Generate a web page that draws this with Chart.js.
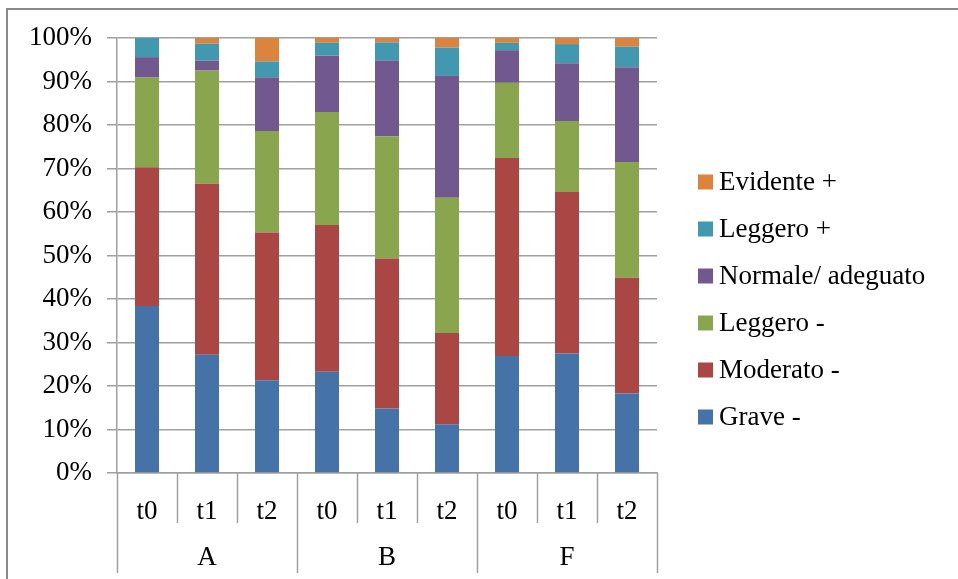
<!DOCTYPE html>
<html>
<head>
<meta charset="utf-8">
<title>Grafico</title>
<script src="https://cdn.jsdelivr.net/npm/chart.js@4.4.1/dist/chart.umd.min.js"></script>
<style>
  html, body { margin: 0; padding: 0; background: #fff; }
  canvas { display: block; }
</style>
</head>
<body>
<canvas id="grafico" width="958" height="579"></canvas>
<script>
// categorie (tempi) e gruppi
const tempi = ['t0', 't1', 't2', 't0', 't1', 't2', 't0', 't1', 't2'];
const gruppi = ['A', 'B', 'F'];

// percentuali per livello
const grave = [38.4, 27.2, 21.3, 23.3, 14.8, 11.2, 26.9, 27.5, 18.3];
const moderato = [31.9, 39.3, 34.0, 33.7, 34.5, 21.0, 45.5, 37.1, 26.6];
const leggeroMeno = [20.6, 26.0, 23.3, 26.0, 28.1, 31.1, 17.3, 16.3, 26.6];
const normale = [4.7, 2.3, 12.4, 13.0, 17.4, 28.0, 7.5, 13.3, 21.8];
const leggeroPiu = [4.4, 3.9, 3.6, 2.9, 4.2, 6.5, 1.7, 4.4, 4.7];
const evidente = [0, 1.3, 5.4, 1.1, 1.0, 2.2, 1.1, 1.4, 2.0];

const fontSerif = "'Liberation Serif', 'Times New Roman', serif";
const grandezza = 27;
const grigio = '#a0a0a0';

function serie(label, data, colore) {
    return {
        label: label,
        data: data,
        backgroundColor: colore,
        borderWidth: 0,
        barPercentage: 0.4,
        categoryPercentage: 1
    };
}

// cornice, separatori dell'asse x, etichette dei gruppi e legenda
const decorazioni = {
    id: 'decorazioni',
    afterDraw(chart) {
        const ctx = chart.ctx;
        const x = chart.scales.x;
        const area = chart.chartArea;
        const n = tempi.length;
        const larghezza = (x.getPixelForValue(1) - x.getPixelForValue(0));
        ctx.save();

        // cornice esterna
        ctx.strokeStyle = '#8a8a8a';
        ctx.lineWidth = 2;
        ctx.beginPath();
        ctx.moveTo(958, 9);
        ctx.lineTo(7, 9);
        ctx.lineTo(7, 579);
        ctx.stroke();

        // linee tra le categorie
        ctx.strokeStyle = grigio;
        ctx.lineWidth = 1.5;
        for (let i = 0; i <= n; i++) {
            const px = Math.round(x.getPixelForValue(i) - larghezza / 2) + 0.5;
            const lunga = i % 3 === 0;
            ctx.beginPath();
            ctx.moveTo(px, area.bottom);
            ctx.lineTo(px, area.bottom + (lunga ? 100 : 50));
            ctx.stroke();
        }

        // etichette dei gruppi
        ctx.fillStyle = '#000';
        ctx.font = grandezza + 'px ' + fontSerif;
        ctx.textAlign = 'center';
        ctx.textBaseline = 'middle';
        gruppi.forEach((g, i) => {
            const cx = x.getPixelForValue(i * 3 + 1);
            ctx.fillText(g, cx, area.bottom + 85);
        });

        // legenda (ordine inverso)
        ctx.textAlign = 'left';
        const ds = chart.data.datasets;
        for (let k = ds.length - 1, r = 0; k >= 0; k--, r++) {
            const y = 182 + r * 47;
            ctx.fillStyle = ds[k].backgroundColor;
            ctx.fillRect(698, y - 7.5, 15, 15);
            ctx.fillStyle = '#000';
            ctx.fillText(ds[k].label, 719, y + 1);
        }
        ctx.restore();
    }
};

const ctxGrafico = document.getElementById('grafico').getContext('2d');
const grafico = new Chart(ctxGrafico, {
    type: 'bar',
    data: {
        labels: tempi,
        datasets: [
            serie('Grave -', grave, '#4572A7'),
            serie('Moderato -', moderato, '#AA4643'),
            serie('Leggero -', leggeroMeno, '#89A54E'),
            serie('Normale/ adeguato', normale, '#71588F'),
            serie('Leggero +', leggeroPiu, '#4198AF'),
            serie('Evidente +', evidente, '#DB843D')
        ]
    },
    options: {
        responsive: false,
        animation: false,
        layout: {
            padding: { top: 38, bottom: 6, left: 0, right: 301 }
        },
        scales: {
            x: {
                stacked: true,
                grid: { display: false },
                border: { color: grigio, width: 1.5 },
                ticks: {
                    color: '#000',
                    font: { family: fontSerif, size: grandezza },
                    padding: 15,
                    maxRotation: 0
                },
                afterFit(scale) { scale.height = 100; }
            },
            y: {
                stacked: true,
                min: 0,
                max: 100,
                ticks: {
                    stepSize: 10,
                    color: '#000',
                    font: { family: fontSerif, size: grandezza },
                    padding: 15,
                    callback: (v) => v + '%'
                },
                grid: {
                    color: grigio,
                    lineWidth: 1.5,
                    tickLength: 10
                },
                border: { color: grigio, width: 1.5 },
                afterFit(scale) { scale.width = 117; }
            }
        },
        plugins: {
            legend: { display: false },
            tooltip: { enabled: false }
        }
    },
    plugins: [decorazioni]
});
</script>
</body>
</html>
